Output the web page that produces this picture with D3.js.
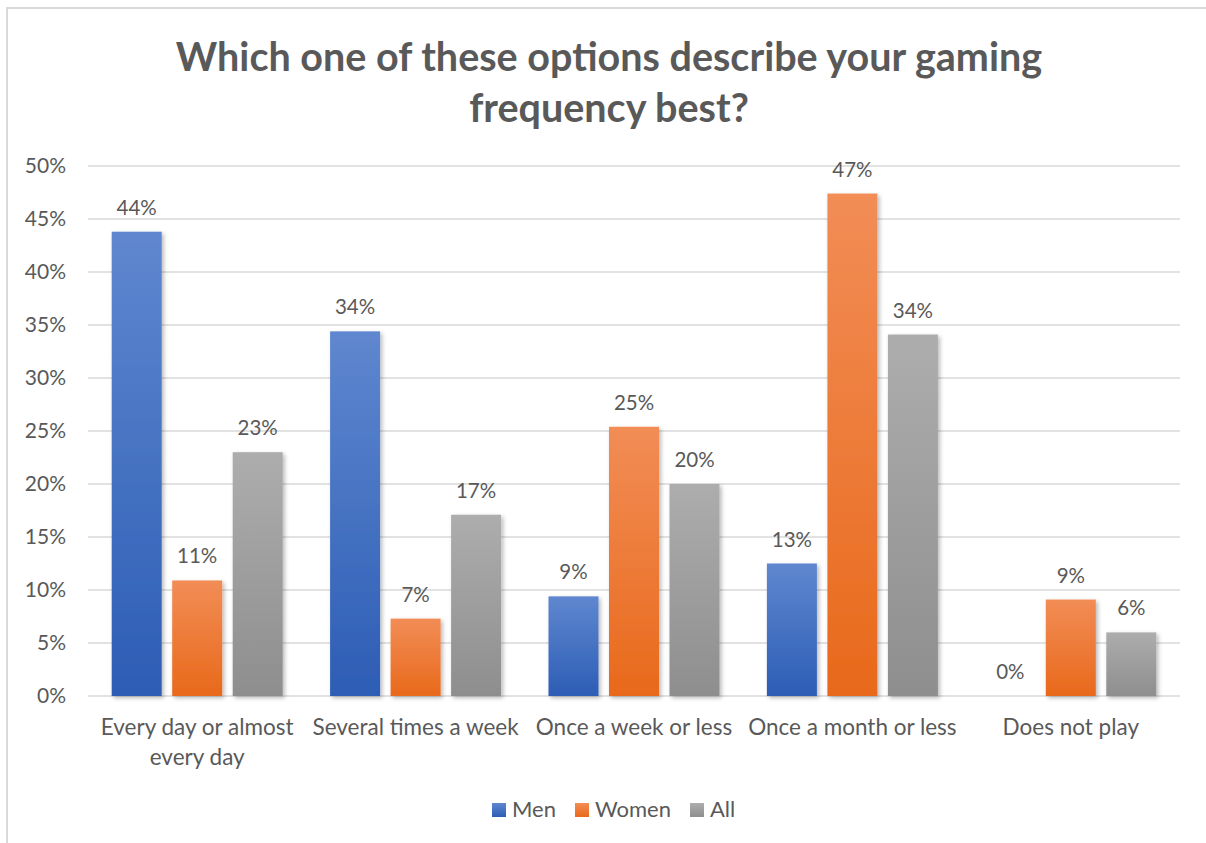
<!DOCTYPE html>
<html>
<head>
<meta charset="utf-8">
<script src="https://cdn.jsdelivr.net/npm/d3@7"></script>
<style>
  html, body { margin: 0; padding: 0; background: #fff; }
  svg { display: block; }
  text { font-family: Lato, "Open Sans", sans-serif; fill: #595959; }
</style>
</head>
<body>
<svg id="chart" width="1206" height="843"></svg>
<script>
// Survey answers: gaming frequency by gender
const categories = [
  ["Every day or almost", "every day"],
  ["Several times a week"],
  ["Once a week or less"],
  ["Once a month or less"],
  ["Does not play"]
];
const seriesNames = ["Men", "Women", "All"];
const men   = [0.438, 0.344, 0.094, 0.125, 0.0];
const women = [0.109, 0.073, 0.254, 0.474, 0.091];
const all   = [0.230, 0.171, 0.200, 0.341, 0.060];
const yTicks = [0, 0.05, 0.10, 0.15, 0.20, 0.25, 0.30, 0.35, 0.40, 0.45, 0.50];
const titleLines = ["Which one of these options describe your gaming", "frequency best?"];

const seriesValues = [men, women, all];
const palette = {
  Men:   ["#5f87cf", "#2d5db5"],
  Women: ["#f28d56", "#e8691b"],
  All:   ["#adadad", "#8e8e8e"]
};

const svg = d3.select("#chart");
const W = 1206, H = 843;

// outer chart frame (bleeds past right and bottom edges)
svg.append("rect")
  .attr("x", 7).attr("y", 8)
  .attr("width", W + 20).attr("height", H + 20)
  .attr("fill", "#fff")
  .attr("stroke", "#d9d9d9").attr("stroke-width", 2);

const defs = svg.append("defs");
seriesNames.forEach(name => {
  const g = defs.append("linearGradient")
    .attr("id", "grad-" + name)
    .attr("x1", 0).attr("y1", 0).attr("x2", 0).attr("y2", 1);
  g.append("stop").attr("offset", "0%").attr("stop-color", palette[name][0]);
  g.append("stop").attr("offset", "100%").attr("stop-color", palette[name][1]);
});
const shadow = defs.append("filter").attr("id", "barShadow")
  .attr("x", "-20%").attr("y", "-10%").attr("width", "150%").attr("height", "130%");
shadow.append("feDropShadow")
  .attr("dx", 2).attr("dy", 2).attr("stdDeviation", 2)
  .attr("flood-color", "#000").attr("flood-opacity", 0.28);

// title
svg.append("g").selectAll("text")
  .data(titleLines)
  .join("text")
  .attr("x", 609)
  .attr("y", (d, i) => 71 + i * 51)
  .attr("text-anchor", "middle")
  .style("font-size", "39.5px")
  .style("font-weight", "bold")
  .text(d => d);

// scales
const plotLeft = 88, plotRight = 1180;
const y = d3.scaleLinear().domain([0, 0.5]).range([696, 166]);
const x0 = d3.scaleBand().domain(d3.range(categories.length)).range([plotLeft, plotRight]);
const x1 = d3.scaleBand().domain(seriesNames)
  .range([23.7, x0.bandwidth() - 23.7]).paddingInner(0.1736);

// gridlines
svg.append("g").selectAll("line")
  .data(yTicks)
  .join("line")
  .attr("x1", plotLeft).attr("x2", plotRight)
  .attr("y1", d => y(d)).attr("y2", d => y(d))
  .attr("stroke", "#d9d9d9").attr("stroke-width", 1.5);

// y axis labels
const yAxis = d3.axisLeft(y).tickValues(yTicks).tickFormat(d3.format(".0%")).tickSize(0).tickPadding(0);
svg.append("g")
  .attr("transform", "translate(66,0)")
  .call(yAxis)
  .call(g => g.select(".domain").remove())
  .call(g => g.selectAll("text")
    .style("font-size", "21px")
    .style("font-family", "Lato, 'Open Sans', sans-serif")
    .attr("fill", "#595959"));

// bars
const groups = svg.append("g").selectAll("g")
  .data(categories.map((c, i) => i))
  .join("g")
  .attr("transform", i => `translate(${x0(i)},0)`);

const barData = i => seriesNames.map((s, k) => ({ s, v: seriesValues[k][i] }));

groups.selectAll("rect")
  .data(barData)
  .join("rect")
  .attr("x", d => x1(d.s))
  .attr("width", x1.bandwidth())
  .attr("y", d => y(d.v))
  .attr("height", d => y(0) - y(d.v))
  .attr("fill", d => `url(#grad-${d.s})`)
  .attr("filter", d => d.v > 0 ? "url(#barShadow)" : null);

// value labels
groups.selectAll("text.val")
  .data(barData)
  .join("text")
  .attr("class", "val")
  .attr("x", d => x1(d.s) + x1.bandwidth() / 2)
  .attr("y", d => y(d.v) - 17)
  .attr("text-anchor", "middle")
  .style("font-size", "20.5px")
  .text(d => d3.format(".0%")(d.v));

// category labels
const catText = svg.append("g").selectAll("text")
  .data(categories)
  .join("text")
  .attr("x", (d, i) => x0(i) + x0.bandwidth() / 2)
  .attr("y", 735)
  .attr("text-anchor", "middle")
  .style("font-size", "22.5px");
catText.selectAll("tspan")
  .data(d => d)
  .join("tspan")
  .attr("x", function () { return this.parentNode.getAttribute("x"); })
  .attr("dy", (d, i) => i === 0 ? 0 : 30)
  .text(d => d);

// legend
const legendItems = [
  { s: "Men", x: 492 },
  { s: "Women", x: 575 },
  { s: "All", x: 690 }
];
const legend = svg.append("g").selectAll("g")
  .data(legendItems)
  .join("g")
  .attr("transform", d => `translate(${d.x},803)`);
legend.append("rect")
  .attr("width", 14).attr("height", 14)
  .attr("fill", d => `url(#grad-${d.s})`);
legend.append("text")
  .attr("x", 20).attr("y", 14)
  .style("font-size", "22px")
  .text(d => d.s);
</script>
</body>
</html>
